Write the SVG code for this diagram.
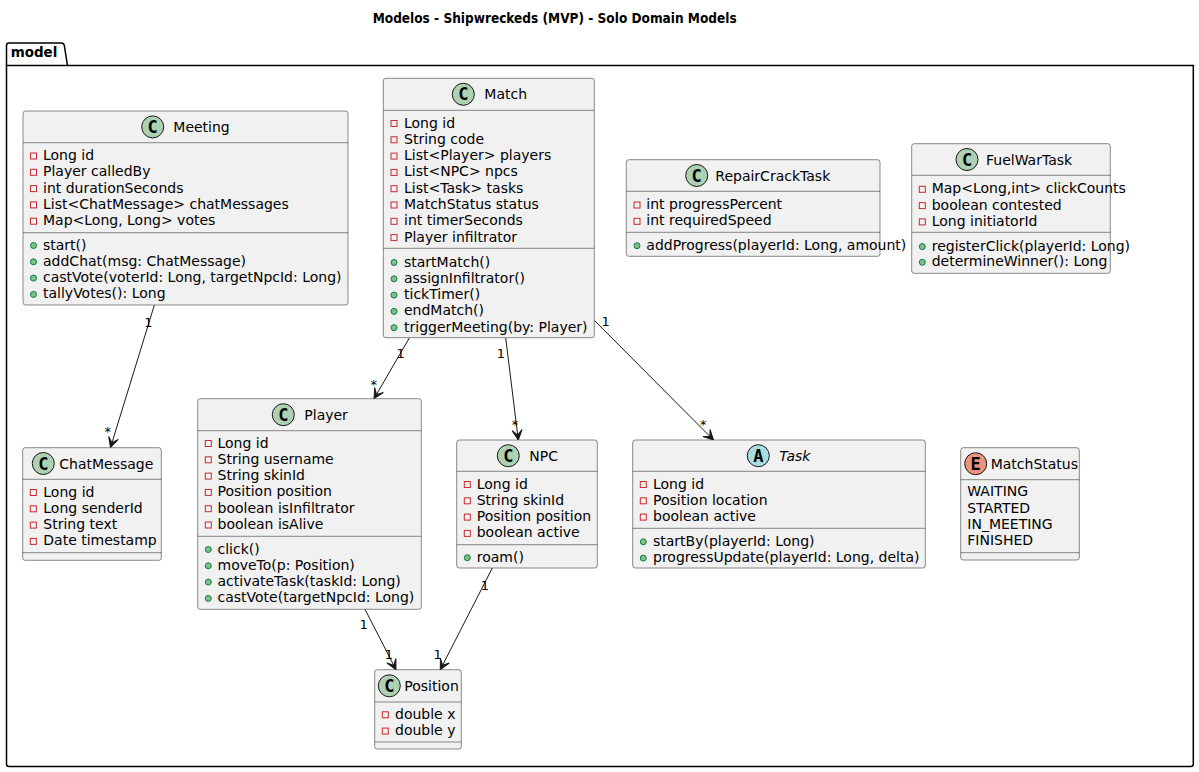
<svg xmlns="http://www.w3.org/2000/svg" xmlns:xlink="http://www.w3.org/1999/xlink" width="1199" height="772" viewBox="0 0 1199 772">
  <defs>
    <style>
      text { font-family: "DejaVu Sans", "Liberation Sans", sans-serif; fill: #000; }
      .title { font-size: 14px; font-weight: bold; }
      .pkg { font-size: 14px; font-weight: bold; }
      .box { fill: #F1F1F1; stroke: #181818; stroke-width: 0.5; }
      .sep { stroke: #181818; stroke-width: 0.5; }
      .name { font-size: 14px; }
      .abs { font-style: italic; }
      .m { font-size: 14px; }
      .glyph { font-family: "DejaVu Sans Mono", "Liberation Mono", monospace; font-size: 17px; font-weight: bold; text-anchor: middle; }
      .ic { stroke: #181818; stroke-width: 1; }
      .edge { fill: none; stroke: #181818; stroke-width: 1; }
      .lbl { font-size: 13px; text-anchor: middle; }
    </style>
    <rect id="priv" x="-3" y="-3" width="6" height="6" fill="none" stroke="#C82930" stroke-width="1"/>
    <circle id="pub" r="3" fill="#84BE84" stroke="#038048" stroke-width="1"/>
    <marker id="arr" viewBox="-11 -6 12 12" refX="0" refY="0" markerWidth="12" markerHeight="12" markerUnits="userSpaceOnUse" orient="auto">
      <path d="M0,0 L-10,-5 L-5,0 L-10,5 Z" fill="#181818" stroke="#181818" stroke-width="1" stroke-linejoin="miter"/>
    </marker>
  </defs>
  <rect width="1199" height="772" fill="#FFFFFF"/>

  <text class="title" x="372.7" y="23" textLength="364" lengthAdjust="spacingAndGlyphs">Modelos - Shipwreckeds (MVP) - Solo Domain Models</text>

  <!-- package frame -->
  <g id="pkg-model">
    <path d="M6.5,65.5 V45.5 Q6.5,43 9,43 H61.5 Q63.8,43 64.3,45.3 L67.5,65.5" fill="none" stroke="#000" stroke-width="1.5"/>
    <path d="M6.5,65.5 V764 Q6.5,766.5 9,766.5 H1190.8 Q1193.3,766.5 1193.3,764 V65.5 Z" fill="none" stroke="#000" stroke-width="1.5"/>
    <text class="pkg" x="10.7" y="57" textLength="46.6" lengthAdjust="spacingAndGlyphs">model</text>
  </g>

  <!-- connectors -->
  <g id="connectors">
    <path class="edge" d="M154.3,305.2 L110.5,447.5" marker-end="url(#arr)"/>
    <path class="edge" d="M409.3,338 L374,398.7" marker-end="url(#arr)"/>
    <path class="edge" d="M505.7,338 L518.3,440" marker-end="url(#arr)"/>
    <path class="edge" d="M594.5,320.5 L713.5,440" marker-end="url(#arr)"/>
    <path class="edge" d="M365,609.3 L396,669.7" marker-end="url(#arr)"/>
    <path class="edge" d="M492.3,568 L440.3,669.7" marker-end="url(#arr)"/>
    <text class="lbl" x="148.3" y="326.5">1</text>
    <text class="lbl" x="107.7" y="436">*</text>
    <text class="lbl" x="400.7" y="358">1</text>
    <text class="lbl" x="373.7" y="388.5">*</text>
    <text class="lbl" x="501" y="358">1</text>
    <text class="lbl" x="515" y="429">*</text>
    <text class="lbl" x="605.7" y="325.5">1</text>
    <text class="lbl" x="703.3" y="428.5">*</text>
    <text class="lbl" x="363.7" y="629">1</text>
    <text class="lbl" x="389" y="658.8">1</text>
    <text class="lbl" x="485" y="589.8">1</text>
    <text class="lbl" x="437.7" y="658.8">1</text>
  </g>

  <!-- Meeting -->
  <g id="Meeting">
    <rect class="box" x="23" y="111" width="325" height="194" rx="2.5"/>
    <line class="sep" x1="23" y1="142.7" x2="348" y2="142.7"/>
    <line class="sep" x1="23" y1="232.7" x2="348" y2="232.7"/>
    <circle class="ic" cx="152.7" cy="126.9" r="11" fill="#ADD1B2"/>
    <text class="glyph" x="152.7" y="132.9">C</text>
    <text class="name" x="173.3" y="132">Meeting</text>
    <use href="#priv" x="33.5" y="156"/><text class="m" x="43" y="160">Long id</text>
    <use href="#priv" x="33.5" y="172.3"/><text class="m" x="43" y="176.3">Player calledBy</text>
    <use href="#priv" x="33.5" y="188.6"/><text class="m" x="43" y="192.6">int durationSeconds</text>
    <use href="#priv" x="33.5" y="204.9"/><text class="m" x="43" y="208.9">List&lt;ChatMessage&gt; chatMessages</text>
    <use href="#priv" x="33.5" y="221.2"/><text class="m" x="43" y="225.2">Map&lt;Long, Long&gt; votes</text>
    <use href="#pub" x="33.5" y="245.5"/><text class="m" x="43" y="249.5">start()</text>
    <use href="#pub" x="33.5" y="261.8"/><text class="m" x="43" y="265.8">addChat(msg: ChatMessage)</text>
    <use href="#pub" x="33.5" y="278.1"/><text class="m" x="43" y="282.1">castVote(voterId: Long, targetNpcId: Long)</text>
    <use href="#pub" x="33.5" y="294.4"/><text class="m" x="43" y="298.4">tallyVotes(): Long</text>
  </g>

  <!-- Match -->
  <g id="Match">
    <rect class="box" x="383.3" y="78.3" width="211" height="259.4" rx="2.5"/>
    <line class="sep" x1="383.3" y1="110.3" x2="594.3" y2="110.3"/>
    <line class="sep" x1="383.3" y1="248.3" x2="594.3" y2="248.3"/>
    <circle class="ic" cx="463.3" cy="94.3" r="11" fill="#ADD1B2"/>
    <text class="glyph" x="463.3" y="100.3">C</text>
    <text class="name" x="484.3" y="99.3">Match</text>
    <use href="#priv" x="394" y="123.5"/><text class="m" x="404" y="127.5">Long id</text>
    <use href="#priv" x="394" y="139.8"/><text class="m" x="404" y="143.8">String code</text>
    <use href="#priv" x="394" y="156.1"/><text class="m" x="404" y="160.1">List&lt;Player&gt; players</text>
    <use href="#priv" x="394" y="172.4"/><text class="m" x="404" y="176.4">List&lt;NPC&gt; npcs</text>
    <use href="#priv" x="394" y="188.7"/><text class="m" x="404" y="192.7">List&lt;Task&gt; tasks</text>
    <use href="#priv" x="394" y="205"/><text class="m" x="404" y="209">MatchStatus status</text>
    <use href="#priv" x="394" y="221.3"/><text class="m" x="404" y="225.3">int timerSeconds</text>
    <use href="#priv" x="394" y="237.6"/><text class="m" x="404" y="241.6">Player infiltrator</text>
    <use href="#pub" x="394" y="262.5"/><text class="m" x="404" y="266.5">startMatch()</text>
    <use href="#pub" x="394" y="278.8"/><text class="m" x="404" y="282.8">assignInfiltrator()</text>
    <use href="#pub" x="394" y="295.1"/><text class="m" x="404" y="299.1">tickTimer()</text>
    <use href="#pub" x="394" y="311.4"/><text class="m" x="404" y="315.4">endMatch()</text>
    <use href="#pub" x="394" y="327.7"/><text class="m" x="404" y="331.7">triggerMeeting(by: Player)</text>
  </g>

  <!-- RepairCrackTask -->
  <g id="RepairCrackTask">
    <rect class="box" x="626.3" y="159.7" width="253.7" height="96.6" rx="2.5"/>
    <line class="sep" x1="626.3" y1="191.3" x2="880" y2="191.3"/>
    <line class="sep" x1="626.3" y1="232.3" x2="880" y2="232.3"/>
    <circle class="ic" cx="696.7" cy="175.5" r="11" fill="#ADD1B2"/>
    <text class="glyph" x="696.7" y="181.5">C</text>
    <text class="name" x="715.3" y="180.5">RepairCrackTask</text>
    <use href="#priv" x="637" y="205"/><text class="m" x="646.3" y="209">int progressPercent</text>
    <use href="#priv" x="637" y="221.3"/><text class="m" x="646.3" y="225.3">int requiredSpeed</text>
    <use href="#pub" x="637" y="245.7"/><text class="m" x="646.3" y="249.7">addProgress(playerId: Long, amount)</text>
  </g>

  <!-- FuelWarTask -->
  <g id="FuelWarTask">
    <rect class="box" x="911.7" y="143.7" width="198.6" height="129.6" rx="2.5"/>
    <line class="sep" x1="911.7" y1="175.3" x2="1110.3" y2="175.3"/>
    <line class="sep" x1="911.7" y1="232.3" x2="1110.3" y2="232.3"/>
    <circle class="ic" cx="967" cy="159.5" r="11" fill="#ADD1B2"/>
    <text class="glyph" x="967" y="165.5">C</text>
    <text class="name" x="986" y="164.5">FuelWarTask</text>
    <use href="#priv" x="922.3" y="189.3"/><text class="m" x="931.7" y="193.3">Map&lt;Long,int&gt; clickCounts</text>
    <use href="#priv" x="922.3" y="205.6"/><text class="m" x="931.7" y="209.6">boolean contested</text>
    <use href="#priv" x="922.3" y="221.9"/><text class="m" x="931.7" y="225.9">Long initiatorId</text>
    <use href="#pub" x="922.3" y="246.6"/><text class="m" x="931.7" y="250.6">registerClick(playerId: Long)</text>
    <use href="#pub" x="922.3" y="262.3"/><text class="m" x="931.7" y="266.3">determineWinner(): Long</text>
  </g>

  <!-- ChatMessage -->
  <g id="ChatMessage">
    <rect class="box" x="22.7" y="447.7" width="138.6" height="112.6" rx="2.5"/>
    <line class="sep" x1="22.7" y1="479.3" x2="161.3" y2="479.3"/>
    <line class="sep" x1="22.7" y1="552.7" x2="161.3" y2="552.7"/>
    <circle class="ic" cx="43.3" cy="463.5" r="11" fill="#ADD1B2"/>
    <text class="glyph" x="43.3" y="469.5">C</text>
    <text class="name" x="59.3" y="468.5">ChatMessage</text>
    <use href="#priv" x="33.3" y="492.5"/><text class="m" x="43.3" y="496.5">Long id</text>
    <use href="#priv" x="33.3" y="508.8"/><text class="m" x="43.3" y="512.8">Long senderId</text>
    <use href="#priv" x="33.3" y="525.1"/><text class="m" x="43.3" y="529.1">String text</text>
    <use href="#priv" x="33.3" y="541.4"/><text class="m" x="43.3" y="545.4">Date timestamp</text>
  </g>

  <!-- Player -->
  <g id="Player">
    <rect class="box" x="197.7" y="398.7" width="223.6" height="210.6" rx="2.5"/>
    <line class="sep" x1="197.7" y1="430.7" x2="421.3" y2="430.7"/>
    <line class="sep" x1="197.7" y1="536.3" x2="421.3" y2="536.3"/>
    <circle class="ic" cx="283.3" cy="414.7" r="11" fill="#ADD1B2"/>
    <text class="glyph" x="283.3" y="420.7">C</text>
    <text class="name" x="304.3" y="419.7">Player</text>
    <use href="#priv" x="208.3" y="443.5"/><text class="m" x="217.5" y="447.5">Long id</text>
    <use href="#priv" x="208.3" y="459.8"/><text class="m" x="217.5" y="463.8">String username</text>
    <use href="#priv" x="208.3" y="476.1"/><text class="m" x="217.5" y="480.1">String skinId</text>
    <use href="#priv" x="208.3" y="492.4"/><text class="m" x="217.5" y="496.4">Position position</text>
    <use href="#priv" x="208.3" y="508.7"/><text class="m" x="217.5" y="512.7">boolean isInfiltrator</text>
    <use href="#priv" x="208.3" y="525"/><text class="m" x="217.5" y="529">boolean isAlive</text>
    <use href="#pub" x="208.3" y="549.5"/><text class="m" x="217.5" y="553.5">click()</text>
    <use href="#pub" x="208.3" y="565.8"/><text class="m" x="217.5" y="569.8">moveTo(p: Position)</text>
    <use href="#pub" x="208.3" y="582.1"/><text class="m" x="217.5" y="586.1">activateTask(taskId: Long)</text>
    <use href="#pub" x="208.3" y="598.4"/><text class="m" x="217.5" y="602.4">castVote(targetNpcId: Long)</text>
  </g>

  <!-- Position -->
  <g id="Position">
    <rect class="box" x="374.7" y="669.7" width="86.6" height="79.3" rx="2.5"/>
    <line class="sep" x1="374.7" y1="702" x2="461.3" y2="702"/>
    <line class="sep" x1="374.7" y1="742" x2="461.3" y2="742"/>
    <circle class="ic" cx="389.3" cy="685.8" r="11" fill="#ADD1B2"/>
    <text class="glyph" x="389.3" y="691.8">C</text>
    <text class="name" x="404.3" y="690.8">Position</text>
    <use href="#priv" x="385.3" y="714.8"/><text class="m" x="395" y="718.8">double x</text>
    <use href="#priv" x="385.3" y="731.1"/><text class="m" x="395" y="735.1">double y</text>
  </g>

  <!-- NPC -->
  <g id="NPC">
    <rect class="box" x="456.7" y="440" width="140.6" height="128" rx="2.5"/>
    <line class="sep" x1="456.7" y1="471.3" x2="597.3" y2="471.3"/>
    <line class="sep" x1="456.7" y1="544.7" x2="597.3" y2="544.7"/>
    <circle class="ic" cx="508.3" cy="455.7" r="11" fill="#ADD1B2"/>
    <text class="glyph" x="508.3" y="461.7">C</text>
    <text class="name" x="529.3" y="460.7">NPC</text>
    <use href="#priv" x="467.3" y="484.5"/><text class="m" x="476.7" y="488.5">Long id</text>
    <use href="#priv" x="467.3" y="500.8"/><text class="m" x="476.7" y="504.8">String skinId</text>
    <use href="#priv" x="467.3" y="517.1"/><text class="m" x="476.7" y="521.1">Position position</text>
    <use href="#priv" x="467.3" y="533.4"/><text class="m" x="476.7" y="537.4">boolean active</text>
    <use href="#pub" x="467.3" y="557.7"/><text class="m" x="476.7" y="561.7">roam()</text>
  </g>

  <!-- Task (abstract) -->
  <g id="Task">
    <rect class="box" x="632.7" y="440" width="292.6" height="128" rx="2.5"/>
    <line class="sep" x1="632.7" y1="471.3" x2="925.3" y2="471.3"/>
    <line class="sep" x1="632.7" y1="528.3" x2="925.3" y2="528.3"/>
    <circle class="ic" cx="758.3" cy="455.7" r="11" fill="#A9DCDF"/>
    <text class="glyph" x="758.3" y="461.7">A</text>
    <text class="name abs" x="779.3" y="460.7">Task</text>
    <use href="#priv" x="643.3" y="484.5"/><text class="m" x="653" y="488.5">Long id</text>
    <use href="#priv" x="643.3" y="500.8"/><text class="m" x="653" y="504.8">Position location</text>
    <use href="#priv" x="643.3" y="517.1"/><text class="m" x="653" y="521.1">boolean active</text>
    <use href="#pub" x="643.3" y="541.8"/><text class="m" x="653" y="545.8">startBy(playerId: Long)</text>
    <use href="#pub" x="643.3" y="558.1"/><text class="m" x="653" y="562.1">progressUpdate(playerId: Long, delta)</text>
  </g>

  <!-- MatchStatus (enum) -->
  <g id="MatchStatus">
    <rect class="box" x="960.7" y="447.7" width="118.6" height="112.3" rx="2.5"/>
    <line class="sep" x1="960.7" y1="479.7" x2="1079.3" y2="479.7"/>
    <line class="sep" x1="960.7" y1="552.7" x2="1079.3" y2="552.7"/>
    <circle class="ic" cx="975.7" cy="463.7" r="11" fill="#EB937F"/>
    <text class="glyph" x="975.7" y="469.7">E</text>
    <text class="name" x="990.7" y="468.7">MatchStatus</text>
    <text class="m" x="967.3" y="496.3">WAITING</text>
    <text class="m" x="967.3" y="512.6">STARTED</text>
    <text class="m" x="967.3" y="528.9">IN_MEETING</text>
    <text class="m" x="967.3" y="545.2">FINISHED</text>
  </g>
</svg>
